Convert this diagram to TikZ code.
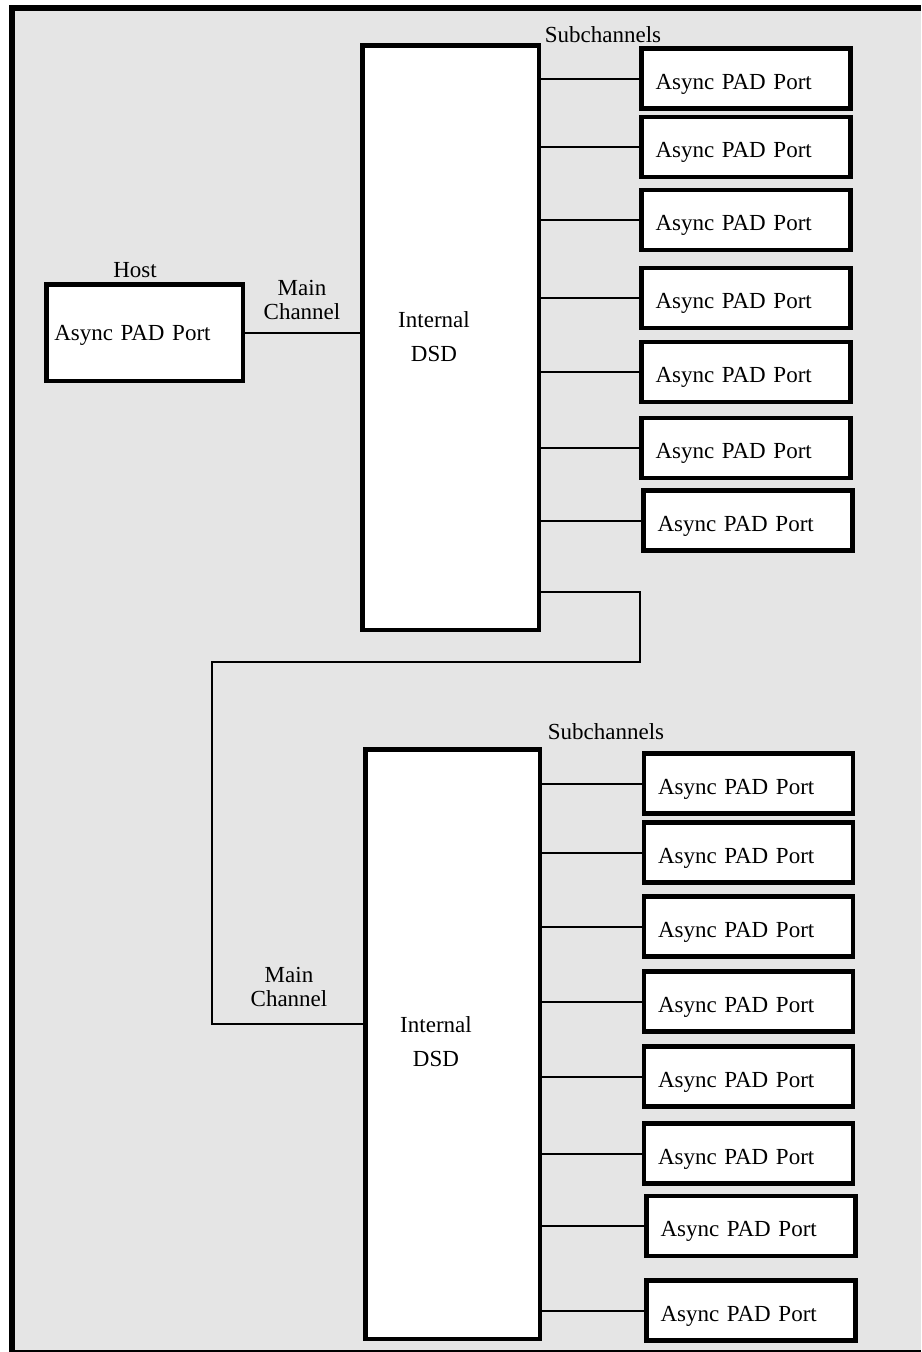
\documentclass[tikz,border=0pt]{standalone}
\usepackage{fontspec}
\setmainfont{Liberation Serif}
\definecolor{panel}{RGB}{229,229,229}

\begin{document}
\begin{tikzpicture}[x=1pt, y=-1pt,
    port/.style={draw, line width=4.5pt, fill=white, minimum height=60pt, text width=181pt, text height=26pt, text depth=5pt, inner xsep=14pt, align=left, font=\fontsize{23}{27}\selectfont},
    dsd/.style={draw, line width=4.5pt, fill=white, minimum width=176.5pt},
    lbl/.style={align=center, inner sep=0pt, font=\fontsize{23}{24}\selectfont},
    link/.style={line width=2pt}
]
\useasboundingbox (0,0) rectangle (921,1352);
\fill[panel] (12,7.5) rectangle (921,1353);
\draw[line width=6pt] (921,7.5) -- (12,7.5) -- (12,1353) -- (921,1353);

\node[port, text width=180.5pt, text height=20pt, inner xsep=8pt, minimum height=96.5pt] (host) at (144.5, 332.5) {Async PAD Port};
\node[lbl] (hostlbl) at (135, 270) {Host};
\node[lbl] (mainA)   at (302, 300) {Main\\Channel};
\node[lbl] (mainB)   at (289, 987) {Main\\Channel};
\node[lbl] (subA)    at (603, 35)  {Subchannels};
\node[lbl] (subB)    at (606, 732) {Subchannels};

\node[dsd, minimum height=584.5pt] (dsdA) at (450.5, 337.5) {};
\node[dsd, minimum width=174.5pt, minimum height=589.5pt] (dsdB) at (452.5, 1044) {};
\node[lbl] (dsdAlbl) at (434, 337)  {Internal\\[10pt]DSD};
\node[lbl] (dsdBlbl) at (436, 1042) {Internal\\[10pt]DSD};

\node[port] (pa1) at (746, 78.5)  {Async PAD Port};
\node[port] (pa2) at (746, 147)   {Async PAD Port};
\node[port] (pa3) at (746, 220)   {Async PAD Port};
\node[port] (pa4) at (746, 298)   {Async PAD Port};
\node[port] (pa5) at (746, 372)   {Async PAD Port};
\node[port] (pa6) at (746, 448)   {Async PAD Port};
\node[port] (pa7) at (748, 520.5) {Async PAD Port};

\node[port] (pb1) at (748.5, 783.5)  {Async PAD Port};
\node[port] (pb2) at (748.5, 852.5)  {Async PAD Port};
\node[port] (pb3) at (748.5, 926.5)  {Async PAD Port};
\node[port] (pb4) at (748.5, 1001.5) {Async PAD Port};
\node[port] (pb5) at (748.5, 1076.5) {Async PAD Port};
\node[port] (pb6) at (748.5, 1153.5) {Async PAD Port};
\node[port] (pb7) at (751, 1226)     {Async PAD Port};
\node[port] (pb8) at (751, 1310.5)   {Async PAD Port};

\coordinate (bendA) at (639.5, 592);
\coordinate (bendB) at (212, 662);
\coordinate (feedB) at (212, 1024);

\draw[link] (host.east) -- (host.east -| dsdA.west);
\draw[link] (pa1.west -| dsdA.east) -- (pa1.west);
\draw[link] (pa2.west -| dsdA.east) -- (pa2.west);
\draw[link] (pa3.west -| dsdA.east) -- (pa3.west);
\draw[link] (pa4.west -| dsdA.east) -- (pa4.west);
\draw[link] (pa5.west -| dsdA.east) -- (pa5.west);
\draw[link] (pa6.west -| dsdA.east) -- (pa6.west);
\draw[link] (pa7.west -| dsdA.east) -- (pa7.west);
\draw[link] (bendA -| dsdA.east) -- (bendA) |- (bendB) -- (feedB) -- (feedB -| dsdB.west);
\draw[link] (pb1.west -| dsdB.east) -- (pb1.west);
\draw[link] (pb2.west -| dsdB.east) -- (pb2.west);
\draw[link] (pb3.west -| dsdB.east) -- (pb3.west);
\draw[link] (pb4.west -| dsdB.east) -- (pb4.west);
\draw[link] (pb5.west -| dsdB.east) -- (pb5.west);
\draw[link] (pb6.west -| dsdB.east) -- (pb6.west);
\draw[link] (pb7.west -| dsdB.east) -- (pb7.west);
\draw[link] (pb8.west -| dsdB.east) -- (pb8.west);
\end{tikzpicture}
\end{document}
